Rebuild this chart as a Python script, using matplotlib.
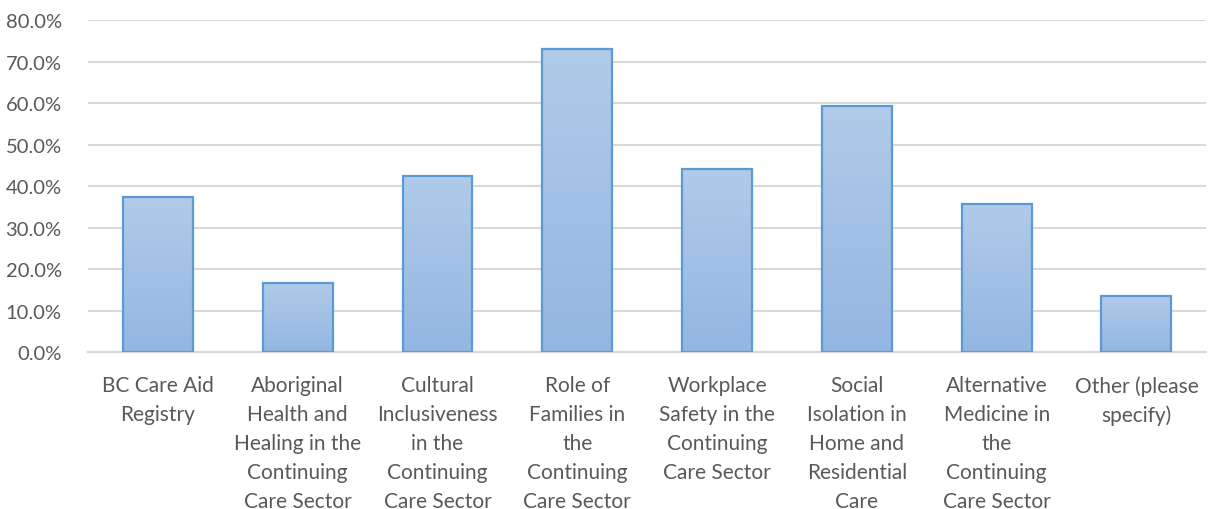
import numpy as np
import matplotlib
matplotlib.use('Agg')
import matplotlib.pyplot as plt
from matplotlib.ticker import FuncFormatter, MultipleLocator
from matplotlib.colors import LinearSegmentedColormap

categories = [
    "BC Care Aid\nRegistry",
    "Aboriginal\nHealth and\nHealing in the\nContinuing\nCare Sector",
    "Cultural\nInclusiveness\nin the\nContinuing\nCare Sector",
    "Role of\nFamilies in\nthe\nContinuing\nCare Sector",
    "Workplace\nSafety in the\nContinuing\nCare Sector",
    "Social\nIsolation in\nHome and\nResidential\nCare",
    "Alternative\nMedicine in\nthe\nContinuing\nCare Sector",
    "Other (please\nspecify)",
]
shares = [0.373, 0.167, 0.423, 0.730, 0.441, 0.593, 0.357, 0.134]

plt.rcParams['font.family'] = ['Lato', 'DejaVu Sans']
TEXT = '#595959'
GRID = '#D9D9D9'

fig = plt.figure(figsize=(12.09, 5.10), dpi=100)
ax = fig.add_axes([0.0728, 0.3078, 0.925, 0.651])

x = np.arange(len(categories))
bars = ax.bar(x, shares, width=0.5, facecolor='none', edgecolor='#5B9BD5',
              linewidth=1.6, zorder=3)

# vertical gradient fill, lighter at the top
cmap = LinearSegmentedColormap.from_list('fill', ['#93B6E2', '#B1CBE9'])
grad = np.linspace(0, 1, 256).reshape(-1, 1)
for b in bars:
    x0, w, h = b.get_x(), b.get_width(), b.get_height()
    im = ax.imshow(grad, cmap=cmap, origin='lower', aspect='auto',
                   extent=(x0, x0 + w, 0, h), zorder=2)
    im.set_clip_path(b)

ax.set_xlim(-0.5, len(categories) - 0.5)
ax.set_ylim(0, 0.8)
ax.yaxis.set_major_locator(MultipleLocator(0.1))
ax.yaxis.set_major_formatter(FuncFormatter(lambda v, _: f"{v * 100:.1f}%"))
ax.grid(axis='y', color=GRID, linewidth=1.5, zorder=0)
ax.set_axisbelow(True)

for s in ['top', 'right', 'left']:
    ax.spines[s].set_visible(False)
ax.spines['bottom'].set_color(GRID)
ax.spines['bottom'].set_linewidth(1.5)

ax.set_xticks(x)
ax.set_xticklabels(categories, fontsize=15, color=TEXT, linespacing=1.56)
ax.tick_params(axis='x', length=0, pad=16.5)
ax.tick_params(axis='y', length=0, pad=19, labelsize=14.5, labelcolor=TEXT)

fig.savefig('out.png', dpi=100)
